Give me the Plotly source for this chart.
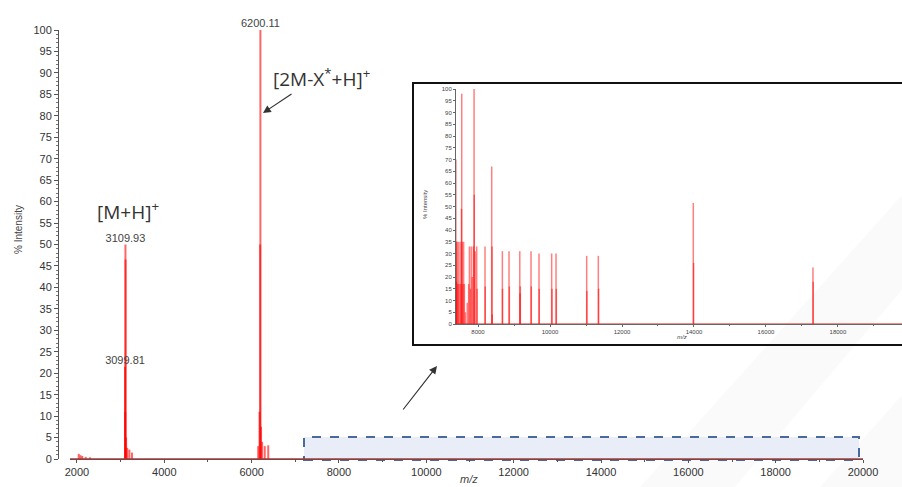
import plotly.graph_objects as go

W, H = 902, 487

# ---------------- data ----------------
# main spectrum sticks (m/z, % intensity)
main_mz = [2040, 2080, 2120, 2200, 2300,
           3099.81, 3105.0, 3109.93, 3112.0, 3125.0, 3150.0, 3200.0, 3260.0,
           6150.0, 6180.0, 6195.0, 6200.11, 6215.0, 6240.0, 6300.0, 6380.0]
main_int = [1.2, 0.9, 0.7, 0.5, 0.4,
            21.5, 11.0, 50.0, 46.5, 5.0, 2.6, 2.2, 1.5,
            3.0, 11.0, 50.0, 100.0, 7.5, 4.0, 3.0, 3.2]

# labelled peaks
label_mz = [3109.93, 3099.81, 6200.11]
label_int = [50.0, 21.5, 100.0]
label_txt = ["3109.93", "3099.81", "6200.11"]

# inset (zoom of 7200-20000 region)
inset_mz = [7370, 7372, 7385, 7392, 7400, 7415, 7430, 7450, 7470, 7500, 7520,
            7540, 7547, 7560, 7580, 7600, 7620, 7650, 7700, 7740, 7760, 7790,
            7810, 7840, 7870, 7890, 7895, 7920, 7963, 7975, 8194, 8200, 8380,
            8390, 8395, 8676, 8680, 8861, 8870, 9160, 9167, 9175, 9472, 9480,
            9694, 9700, 10046, 10055, 10167, 10175, 11019, 11025, 11342, 11350,
            13981, 13990, 17306, 17312]
inset_int = [35, 18, 70, 35, 18, 35, 17, 35, 17, 35, 17,
             49, 98, 35, 17, 35, 17, 5, 9, 17, 33, 15,
             33, 20, 33, 100, 55, 31, 33, 15, 33, 16, 67,
             33, 4, 31, 15, 31, 16, 31, 13, 16, 31, 16,
             30, 15, 30, 15, 30, 15, 29, 14, 29, 15,
             51.5, 26, 24, 18]

main_xticks = [2000, 4000, 6000, 8000, 10000, 12000, 14000, 16000, 18000, 20000]
inset_xticks = [8000, 10000, 12000, 14000, 16000, 18000]


def sticks(xs, ys):
    X, Y = [], []
    for x, y in zip(xs, ys):
        X += [x, x, None]
        Y += [0, y, None]
    return X, Y


def px(x):
    return x / W


def py(y):
    return 1 - y / H


fig = go.Figure()

mx, my = sticks(main_mz, main_int)
fig.add_trace(go.Scatter(x=mx, y=my, mode="lines", xaxis="x", yaxis="y",
                         line=dict(color="rgba(255,0,0,0.6)", width=2),
                         hoverinfo="skip", showlegend=False))

fig.add_trace(go.Scatter(x=label_mz, y=label_int, mode="text", text=label_txt,
                         textposition="top center", xaxis="x", yaxis="y",
                         textfont=dict(family="Liberation Sans, Arial", size=11, color="#444"),
                         hoverinfo="skip", showlegend=False, cliponaxis=False))

ix, iy = sticks(inset_mz, inset_int)
fig.add_trace(go.Scatter(x=ix, y=iy, mode="lines", xaxis="x2", yaxis="y2",
                         line=dict(color="rgba(255,0,0,0.5)", width=1.5),
                         hoverinfo="skip", showlegend=False))

tickfont = dict(family="Liberation Sans, Arial", size=11, color="#333")
small = dict(family="Liberation Sans, Arial", size=6, color="#444")

shapes = [
    # watermark-like faint bands
    dict(type="path", xref="paper", yref="paper", layer="below",
         path=f"M {px(640)} {py(487)} L {px(902)} {py(195)} L {px(902)} {py(290)} L {px(735)} {py(487)} Z",
         fillcolor="rgba(0,0,0,0.02)", line=dict(width=0)),
    dict(type="path", xref="paper", yref="paper", layer="below",
         path=f"M {px(820)} {py(487)} L {px(902)} {py(395)} L {px(902)} {py(487)} Z",
         fillcolor="rgba(0,0,0,0.02)", line=dict(width=0)),
    # dashed selection box
    dict(type="rect", xref="paper", yref="paper", layer="below",
         x0=px(304), x1=px(859), y0=py(460), y1=py(437),
         fillcolor="#e9edf7", line=dict(color="#4a6a9e", width=2, dash="dash")),
    # baselines
    dict(type="line", xref="x domain", yref="y", x0=0, x1=1, y0=0, y1=0,
         line=dict(color="#e02020", width=1.5)),
    dict(type="line", xref="x2 domain", yref="y2", x0=0, x1=1, y0=0, y1=0,
         line=dict(color="#e02020", width=1.2)),
    # inset frame
    dict(type="rect", xref="paper", yref="paper",
         x0=px(413), x1=px(906), y0=py(345), y1=py(83),
         line=dict(color="#111", width=2)),
]

C = dict(xanchor="center", yanchor="middle")
annotations = [
    dict(xref="paper", yref="paper", x=px(128), y=py(211), text="[M+H]<sup>+</sup>",
         showarrow=False, font=dict(family="Open Sans", size=19, color="#333"), **C),
    dict(xref="paper", yref="paper", x=px(321), y=py(78), text="[2M-X<sup>*</sup>+H]<sup>+</sup>",
         showarrow=False, font=dict(family="Open Sans", size=19, color="#333"), **C),
    dict(xref="paper", yref="paper", x=px(263), y=py(113), text="", showarrow=True,
         ax=30, ay=-20, arrowhead=2, arrowsize=1.3, arrowwidth=1.2, arrowcolor="#333"),
    dict(xref="paper", yref="paper", x=px(437), y=py(366), text="", showarrow=True,
         ax=-35, ay=45, arrowhead=2, arrowsize=1.3, arrowwidth=1.2, arrowcolor="#333"),
    dict(xref="paper", yref="paper", x=px(18), y=py(230), text="% Intensity", textangle=-90,
         showarrow=False, font=dict(family="Liberation Sans, Arial", size=10, color="#444"), **C),
    dict(xref="paper", yref="paper", x=px(469), y=py(479), text="<i>m/z</i>",
         showarrow=False, font=dict(family="Liberation Sans, Arial", size=11, color="#444"), **C),
    dict(xref="paper", yref="paper", x=px(425), y=py(205), text="% Intensity", textangle=-90,
         showarrow=False, font=dict(family="Liberation Sans, Arial", size=6, color="#444"), **C),
    dict(xref="paper", yref="paper", x=px(682), y=py(337), text="<i>m/z</i>",
         showarrow=False, font=dict(family="Liberation Sans, Arial", size=6, color="#444"), **C),
]

fig.update_layout(
    width=W, height=H, margin=dict(l=0, r=0, t=0, b=0, autoexpand=False),
    paper_bgcolor="white", plot_bgcolor="rgba(0,0,0,0)",
    showlegend=False,
    xaxis=dict(domain=[px(70), px(863)], range=[1840, 20000], anchor="y", automargin=False,
               tickvals=main_xticks, ticktext=[str(v) for v in main_xticks],
               ticks="outside", ticklen=3, tickcolor="#555",
               showline=True, linecolor="#555", linewidth=1, showgrid=False, zeroline=False,
               tickfont=tickfont, minor=dict(dtick=1000, ticks="outside", ticklen=2, tickcolor="#555")),
    yaxis=dict(domain=[py(459), py(30)], range=[0, 100], anchor="free", position=px(58),
               automargin=False,
               dtick=5, ticks="outside", ticklen=4, tickcolor="#555",
               showline=True, linecolor="#555", linewidth=1, showgrid=False, zeroline=False,
               tickfont=tickfont, minor=dict(dtick=1, ticks="outside", ticklen=2, tickcolor="#777")),
    xaxis2=dict(domain=[px(455), 1.0], range=[7360, 19780], anchor="y2", automargin=False,
                tickvals=inset_xticks, ticktext=[str(v) for v in inset_xticks],
                ticks="outside", ticklen=2, tickcolor="#666",
                showline=True, linecolor="#666", linewidth=1, showgrid=False, zeroline=False,
                tickfont=small, minor=dict(dtick=1000, ticks="outside", ticklen=1, tickcolor="#666")),
    yaxis2=dict(domain=[py(324), py(89)], range=[0, 100], anchor="free", position=px(455),
                automargin=False,
                dtick=5, ticks="outside", ticklen=2, tickcolor="#666",
                showline=True, linecolor="#666", linewidth=1, showgrid=False, zeroline=False,
                tickfont=small),
    shapes=shapes, annotations=annotations,
)

fig.write_html("out.html")
